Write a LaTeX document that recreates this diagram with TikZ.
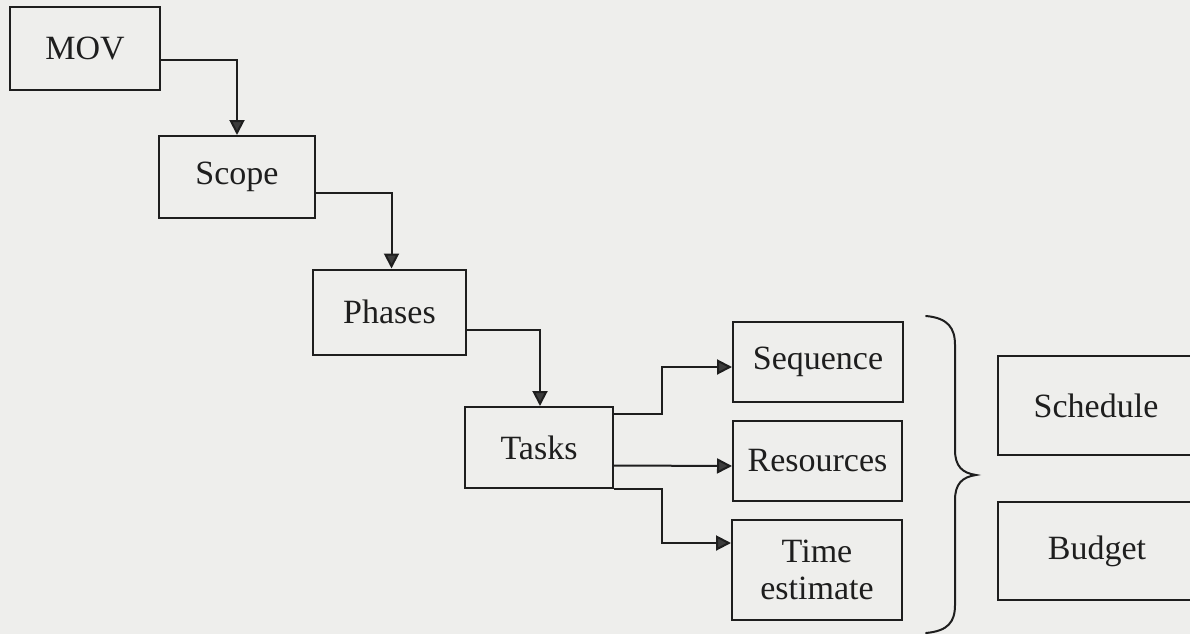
\documentclass[tikz,border=0pt]{standalone}
\usepackage{fontspec}
\setmainfont{Liberation Serif}
\usetikzlibrary{arrows.meta,calc}
\definecolor{bg}{HTML}{EEEEEC}
\definecolor{ink}{HTML}{1E1E1E}
\definecolor{tip}{HTML}{3C3C3C}
\tikzset{
  box/.style={draw=ink, line width=2pt, minimum width=#1, inner sep=0pt, align=center,
    font=\fontsize{34}{37}\selectfont, text=ink},
  arr/.style={draw=ink, line width=2pt,
    -{Triangle[length=15pt,width=15pt,fill=tip]}},
}
\begin{document}
\begin{tikzpicture}[x=1pt,y=-1pt]
\fill[bg] (0,0) rectangle (1190,634);
\useasboundingbox (0,0) rectangle (1190,634);
\clip (0,0) rectangle (1190,634);

\node[box=150pt, minimum height=83pt] (mov) at (85,48.5) {MOV};
\node[box=156pt, minimum height=82pt] (scope) at (237,177) {Scope};
\node[box=153pt, minimum height=85pt] (phases) at (389.5,312) {Phases};
\node[box=148pt, minimum height=81pt] (tasks) at (539,447.5) {Tasks};
\node[box=170pt, minimum height=80pt] (seq) at (818,362) {Sequence};
\node[box=169pt, minimum height=80pt] (res) at (817.5,461) {Resources};
\node[box=170pt, minimum height=100pt] (time) at (817,570) {Time\\estimate};
\node[box=198pt, minimum height=99pt] (sched) at (1097,405.5) {\hspace*{-2pt}Schedule};
\node[box=198pt, minimum height=98pt] (budget) at (1097,551) {Budget};

\draw[arr] ([yshift=-11.5pt]mov.east) -| (scope.north);
\draw[arr] ([yshift=-16pt]scope.east) -| ([xshift=2pt]phases.north);
\draw[arr] ([yshift=-18pt]phases.east) -| ([xshift=1pt]tasks.north);
\draw[arr] ([yshift=-8pt]tasks.north east) -- ++(48,0) |- ([yshift=-5pt]seq.west);
\draw[arr] ([yshift=-18pt]tasks.east) -- ([yshift=-5pt]res.west);
\draw[arr] (tasks.south east) -- ++(48,0) |- ([yshift=27pt]time.west);

% brace
\draw[ink, line width=2pt, line cap=round]
  (926,316) .. controls (948,318) and (955,328) .. (955,345)
  -- (955,450) .. controls (955,466) and (962,473) .. (976,475)
  .. controls (962,477) and (955,484) .. (955,500)
  -- (955,605) .. controls (955,622) and (948,631) .. (926,633);
\end{tikzpicture}
\end{document}
